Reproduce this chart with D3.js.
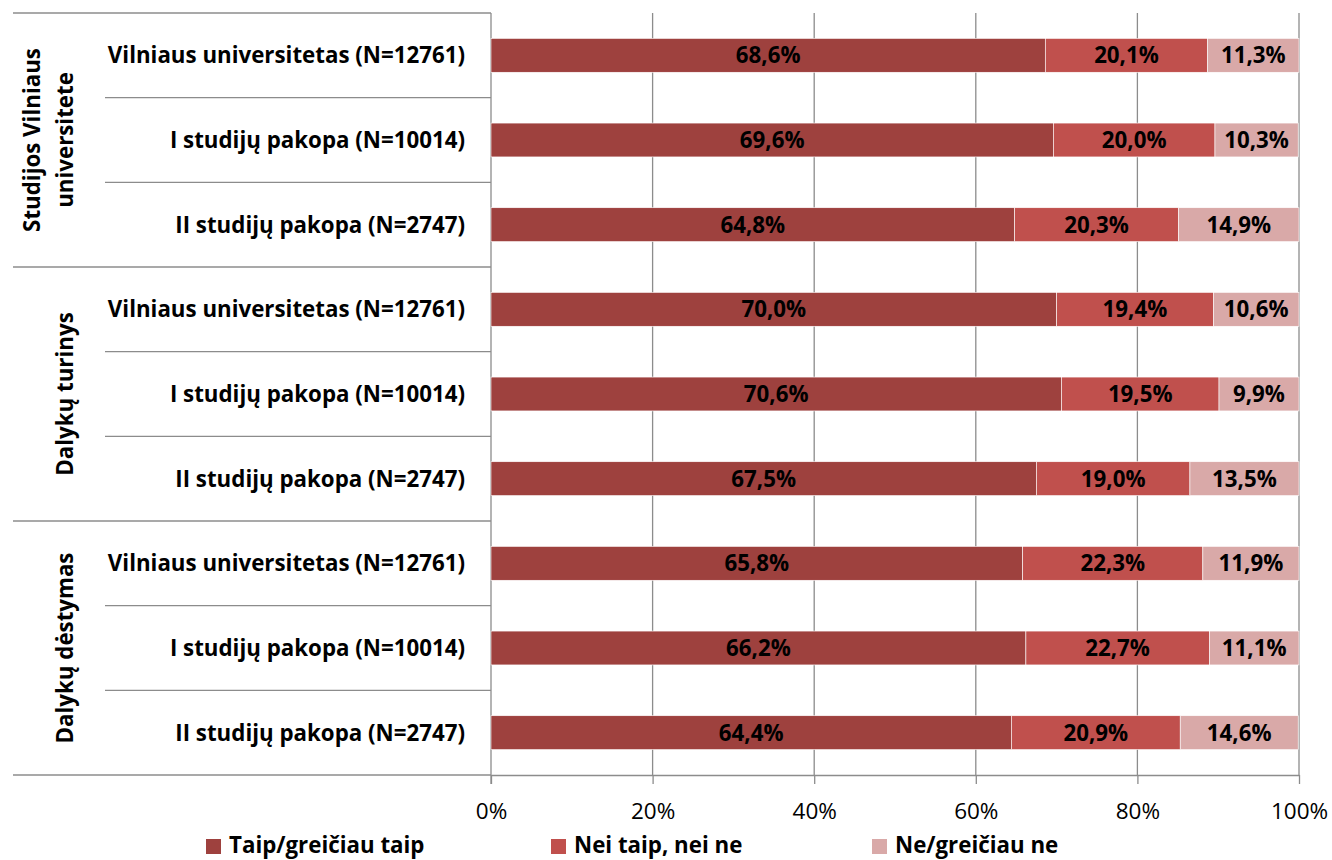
<!DOCTYPE html>
<html>
<head>
<meta charset="utf-8">
<script src="https://cdn.jsdelivr.net/npm/d3@7"></script>
<style>
  body { margin: 0; background: #fff; }
  svg text { font-family: "Open Sans", Lato, sans-serif; }
</style>
</head>
<body>
<div id="chart"></div>
<script>
var groups = ['Studijos Vilniaus universitete', 'Dalykų turinys', 'Dalykų dėstymas'];
var rowLabels = ['Vilniaus universitetas (N=12761)', 'I studijų pakopa (N=10014)', 'II studijų pakopa (N=2747)'];
var seriesNames = ['Taip/greičiau taip', 'Nei taip, nei ne', 'Ne/greičiau ne'];
var seriesColors = ['#9e413e', '#c0504d', '#d9a9a8'];
var taip = [68.6, 69.6, 64.8, 70.0, 70.6, 67.5, 65.8, 66.2, 64.4];
var nei = [20.1, 20.0, 20.3, 19.4, 19.5, 19.0, 22.3, 22.7, 20.9];
var ne = [11.3, 10.3, 14.9, 10.6, 9.9, 13.5, 11.9, 11.1, 14.6];
var xTicks = [0, 20, 40, 60, 80, 100];

var chartW = 1332, chartH = 860;
var plotL = 491, plotR = 1299, plotT = 13, plotB = 775;
var boldSize = 22.3;

var rows = [];
groups.forEach(function (g, gi) {
  rowLabels.forEach(function (r, ri) {
    var i = gi * 3 + ri;
    rows.push({ id: i, group: gi, label: r, values: [taip[i], nei[i], ne[i]] });
  });
});

var svg = d3.select('#chart').append('svg')
  .attr('width', chartW)
  .attr('height', chartH);

var x = d3.scaleLinear().domain([0, 100]).range([plotL, plotR]);
var y = d3.scaleBand().domain(rows.map(function (d) { return d.id; }))
  .range([plotT, plotB]).paddingInner(0.6).paddingOuter(0.3);
var step = y.step();

// vertical gridlines
svg.append('g')
  .selectAll('line')
  .data(xTicks.slice(1))
  .enter().append('line')
  .attr('x1', function (d) { return x(d); })
  .attr('x2', function (d) { return x(d); })
  .attr('y1', plotT)
  .attr('y2', plotB)
  .attr('stroke', '#8c8c8c')
  .attr('stroke-width', 1.3);

// x axis
var xAxis = svg.append('g')
  .attr('transform', 'translate(0,' + plotB + ')')
  .call(d3.axisBottom(x).tickValues(xTicks).tickSize(9).tickSizeOuter(0)
    .tickFormat(function (d) { return d + '%'; }));
xAxis.select('.domain').attr('stroke', '#8c8c8c').attr('stroke-width', 1.3);
xAxis.selectAll('.tick line').attr('stroke', '#8c8c8c').attr('stroke-width', 1.3);
xAxis.selectAll('.tick text')
  .attr('fill', '#000')
  .attr('font-size', 22.5)
  .attr('font-family', '"Open Sans", sans-serif')
  .attr('y', 44)
  .attr('dy', 0);

// left category separators
var bounds = d3.range(rows.length + 1);
svg.append('g')
  .selectAll('line')
  .data(bounds)
  .enter().append('line')
  .attr('x1', function (d) { return d % 3 === 0 ? 13 : 105; })
  .attr('x2', plotL)
  .attr('y1', function (d) { return plotT + d * step; })
  .attr('y2', function (d) { return plotT + d * step; })
  .attr('stroke', '#8c8c8c')
  .attr('stroke-width', 1.3);

// category axis
svg.append('line')
  .attr('x1', plotL).attr('x2', plotL)
  .attr('y1', plotT).attr('y2', plotB + 9)
  .attr('stroke', '#8c8c8c')
  .attr('stroke-width', 1.3);

// bars
var rowG = svg.append('g')
  .selectAll('g')
  .data(rows)
  .enter().append('g')
  .attr('transform', function (d) { return 'translate(0,' + y(d.id) + ')'; });

var segs = rowG.selectAll('g')
  .data(function (d) {
    var acc = 0;
    return d.values.map(function (v, k) {
      var s = { k: k, v: v, x0: acc, x1: acc + v };
      acc += v;
      return s;
    });
  })
  .enter().append('g');

segs.append('rect')
  .attr('x', function (d) { return x(d.x0); })
  .attr('width', function (d) { return x(d.x1) - x(d.x0); })
  .attr('height', y.bandwidth())
  .attr('fill', function (d) { return seriesColors[d.k]; })
  .attr('stroke', '#fff')
  .attr('stroke-width', 0.6);

segs.append('text')
  .attr('x', function (d) { return (x(d.x0) + x(d.x1)) / 2; })
  .attr('y', y.bandwidth() / 2)
  .attr('dy', '0.36em')
  .attr('text-anchor', 'middle')
  .attr('font-size', boldSize)
  .attr('font-weight', 'bold')
  .attr('fill', '#000')
  .text(function (d) { return d.v.toFixed(1).replace('.', ',') + '%'; });

// row labels
svg.append('g')
  .selectAll('text')
  .data(rows)
  .enter().append('text')
  .attr('x', 465)
  .attr('y', function (d) { return y(d.id) + y.bandwidth() / 2; })
  .attr('dy', '0.36em')
  .attr('text-anchor', 'end')
  .attr('font-size', boldSize)
  .attr('font-weight', 'bold')
  .text(function (d) { return d.label; });

// group labels (rotated)
var groupLines = [['Studijos Vilniaus', 'universitete'], ['Dalykų turinys'], ['Dalykų dėstymas']];
groupLines.forEach(function (lines, gi) {
  var cy = plotT + (gi * 3 + 1.5) * step;
  var t = svg.append('text')
    .attr('transform', 'translate(' + (lines.length === 2 ? 40 : 73) + ',' + cy + ') rotate(-90)')
    .attr('text-anchor', 'middle')
    .attr('font-size', boldSize)
    .attr('font-weight', 'bold');
  lines.forEach(function (l, li) {
    t.append('tspan')
      .attr('x', 0)
      .attr('dy', li === 0 ? 0 : 33)
      .text(l);
  });
});

// legend
var legendX = [206, 551, 872];
var legend = svg.append('g')
  .selectAll('g')
  .data(seriesNames)
  .enter().append('g')
  .attr('transform', function (d, i) { return 'translate(' + legendX[i] + ',839)'; });
legend.append('rect')
  .attr('width', 15)
  .attr('height', 15)
  .attr('fill', function (d, i) { return seriesColors[i]; });
legend.append('text')
  .attr('x', 23)
  .attr('y', 14)
  .attr('font-size', boldSize)
  .attr('font-weight', 'bold')
  .text(function (d) { return d; });
</script>
</body>
</html>
